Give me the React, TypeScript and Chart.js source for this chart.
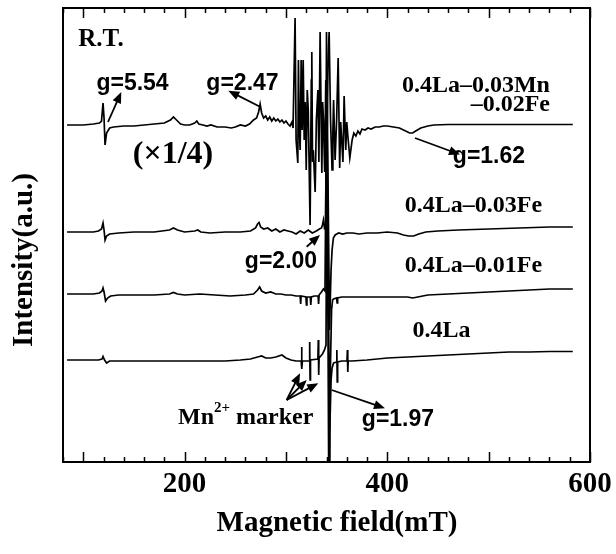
import React, { useEffect, useRef } from "react";
import { Chart, registerables } from "chart.js";

Chart.register(...registerables);

// ---- axis ----
const fieldMin = 80;
const fieldMax = 600;
const intensityMin = 0;
const intensityMax = 454;
const xTickLabels = [200, 400, 600];
const majorTicks = [100, 200, 300, 400, 500, 600];
const minorTicks = [80, 120, 140, 160, 180, 220, 240, 260, 280, 320, 340, 360, 380, 420, 440, 460, 480, 520, 540, 560, 580];

// ---- trace: 0.4La-0.03Mn-0.02Fe (x1/4) ----
const mnFeField = [84, 100, 110, 116, 118, 119.5, 120.5, 121.5, 123, 126, 130, 140, 150, 160, 170, 180, 186, 189, 192, 196, 200, 205, 210, 212, 214, 218, 222, 226, 232, 240, 246, 250, 255, 260, 264, 268, 271, 273, 274.5, 276, 278, 280, 282, 284, 286, 288, 290, 292, 294, 296, 298, 300, 302, 304, 306, 307, 309, 310, 311.7, 312.3, 313, 314, 315, 316, 317, 318, 319, 320, 321, 322, 323.8, 325, 325.5, 326.2, 327, 328.8, 330, 331.5, 332.5, 333.7, 335.4, 336.2, 337, 338.2, 339.3, 340.5, 341.5, 342.6, 344, 345.5, 346.3, 347, 348.5, 350, 351.5, 353, 354, 355, 356.2, 357.4, 359, 360, 361, 363, 365.3, 367, 369, 371, 373, 375, 378, 381, 384, 388, 392, 396, 400, 406, 412, 418, 422, 425, 428, 433, 440, 446, 460, 480, 500, 520, 540, 560, 583];
const mnFeIntensity = [337, 337, 338, 339, 341, 359, 344, 317, 329, 334, 335, 336, 336, 337, 338, 339, 342, 345, 342, 338, 337, 337, 339, 341, 338, 337, 336, 337, 335, 335, 334, 335, 337, 336, 338, 342, 344, 350, 358, 349, 344, 346, 342, 345, 341, 344, 341, 343, 340, 342, 339, 341, 338, 336, 340, 334, 444, 322, 299, 402, 342, 312, 402, 332, 402, 322, 360, 292, 372, 352, 237, 382, 410, 300, 312, 270, 342, 372, 300, 430, 289, 360, 342, 290, 382, 312, 400, 430, 342, 292, 330, 362, 302, 342, 404, 294, 340, 322, 300, 366, 312, 340, 327, 304, 322, 329, 326, 331, 328, 333, 332, 334, 333, 335, 335, 336, 336, 335, 334, 331, 329, 329, 331, 334, 336, 337, 337.5, 337.5, 337.5, 337.5, 337.5, 337.5, 337.5];

// ---- trace: 0.4La-0.03Fe ----
const fe03Field = [84, 100, 110, 115, 118, 119.5, 120.5, 121.5, 123, 126, 135, 150, 170, 185, 189, 193, 200, 210, 213, 216, 225, 240, 255, 265, 270, 272, 273.5, 275, 278, 282, 286, 290, 294, 298, 302, 306, 310, 314, 318, 322, 326, 330, 333, 335, 336, 337, 338, 339.2, 340, 343, 343.8, 344.5, 345.5, 346.8, 348.5, 352, 356, 360, 366, 372, 380, 390, 400, 410, 416, 421, 426, 431, 438, 450, 470, 500, 530, 560, 583];
const fe03Intensity = [230, 230, 230, 231, 233, 239, 232, 222, 226, 228, 229, 230, 230, 232, 234, 232, 230, 231, 232, 230, 229, 230, 230, 231, 234, 238, 239.5, 235, 233, 234, 231, 233, 230, 232, 231, 230, 228, 231, 229, 232, 229, 231, 233, 234, 237, 242, 234, 236, 430, 132, 165, 192, 212, 224, 227, 229, 228, 229, 229, 228, 229, 229, 230, 229, 227, 226, 226, 228, 230, 231, 232, 233, 234, 235, 235];

// ---- trace: 0.4La-0.01Fe ----
const fe01Field = [84, 95, 110, 116, 118.5, 119.5, 120.5, 122, 124, 127, 135, 150, 170, 185, 189, 193, 200, 215, 230, 245, 260, 268, 272, 274, 276, 280, 285, 290, 295, 300, 305, 310, 314, 314.5, 315, 319.7, 320.2, 320.7, 324, 324.5, 325, 328, 331.7, 332.2, 332.7, 335, 337, 338.5, 340.2, 343, 344, 345, 346, 347, 350, 350.5, 351, 355, 360, 370, 390, 410, 420, 425, 430, 440, 460, 480, 500, 520, 540, 560, 583];
const fe01Intensity = [168, 168, 168, 169, 171, 174, 170, 161, 164, 166, 167, 167, 167, 168, 169.5, 168, 167, 168, 167, 166, 167, 168, 172, 175, 171, 169, 170, 168, 168, 167, 167, 166, 166, 158, 166, 165, 157, 165, 165, 157, 165, 166, 166, 158, 167, 170, 173, 171, 380, 32, 102, 152, 162, 163, 164, 159, 164, 165, 165, 165, 165, 165, 165, 164, 165, 167, 168, 169, 170, 171, 172, 173, 173];

// ---- trace: 0.4La ----
const laField = [84, 100, 115, 118.5, 119.5, 121, 123, 126, 140, 160, 180, 200, 220, 240, 255, 265, 272, 276, 280, 285, 290, 296, 300, 305, 310, 315, 315.4, 315.8, 316.2, 323, 323.4, 323.8, 324.2, 331.5, 331.9, 332.3, 332.7, 336, 338, 339.5, 340.5, 342.8, 343.5, 344.5, 345.5, 347, 350, 350.2, 350.6, 351, 355, 360.2, 360.6, 361, 361.4, 365, 380, 400, 420, 440, 460, 480, 500, 520, 540, 560, 583];
const laIntensity = [102, 102, 102, 103, 105.5, 102, 99, 101, 101, 101, 101, 101, 101, 101, 102, 103, 105, 106, 104, 104, 105, 107, 104, 102, 101, 101, 115, 93, 101, 101, 120, 82, 102, 103, 122, 87, 104, 108, 112, 117, 330, -138, 42, 82, 94, 99, 100, 112, 80, 100, 101, 101, 112, 90, 101, 101, 102, 104, 105, 106, 107, 108, 109, 110, 110, 110.5, 110.5];

// ---- annotations (data coordinates: field mT, intensity a.u.) ----
const serifBold = (s: number) => `bold ${s}px "Liberation Serif", "Times New Roman", serif`;
const sansBold = (s: number) => `bold ${s}px "Liberation Sans", Arial, sans-serif`;

const labels = [
  { text: "R.T.", x: 117.5, y: 422, font: serifBold(25), align: "center" },
  { text: "g=5.54", x: 148.6, y: 378.5, font: sansBold(23), align: "center" },
  { text: "g=2.47", x: 257.1, y: 378.5, font: sansBold(23), align: "center" },
  { text: "0.4La\u20130.03Mn", x: 560.5, y: 376, font: serifBold(24), align: "right" },
  { text: "\u20130.02Fe", x: 560.5, y: 357, font: serifBold(24), align: "right" },
  { text: "(\u00d71/4)", x: 188.5, y: 307, font: serifBold(32), align: "center" },
  { text: "g=1.62", x: 500.3, y: 305, font: sansBold(23), align: "center" },
  { text: "0.4La\u20130.03Fe", x: 485, y: 256, font: serifBold(24), align: "center" },
  { text: "g=2.00", x: 295.1, y: 200, font: sansBold(23), align: "center" },
  { text: "0.4La\u20130.01Fe", x: 485, y: 196, font: serifBold(24), align: "center" },
  { text: "0.4La", x: 453.5, y: 131, font: serifBold(24), align: "center" },
  { text: "g=1.97", x: 410.5, y: 42, font: sansBold(23), align: "center" },
];

const arrows = [
  { from: [124.4, 340], to: [137.5, 370] },
  { from: [274.4, 355.3], to: [243.1, 371.3] },
  { from: [427.3, 324], to: [471.7, 307.5] },
  { from: [320.4, 215.3], to: [333.6, 227] },
  { from: [300.7, 62], to: [313.9, 88.7] },
  { from: [300.7, 62], to: [320.5, 82] },
  { from: [300.7, 62], to: [331.9, 78.7] },
  { from: [345.1, 72], to: [397.7, 53.7] },
];

const markerLabel = { main: "Mn", sup: "2+", rest: " marker", x: 193.5, y: 44 };
const xTitle = "Magnetic field(mT)";
const yTitle = "Intensity(a.u.)";

const annotationPlugin = {
  id: "epr-annotations",
  afterDraw(chart: any) {
    const { ctx, chartArea, scales } = chart;
    const xs = scales.x;
    const ys = scales.y;
    const px = (v: number) => xs.getPixelForValue(v);
    const py = (v: number) => ys.getPixelForValue(v);
    ctx.save();
    ctx.fillStyle = "#000";
    ctx.strokeStyle = "#000";

    // frame
    ctx.lineWidth = 2;
    ctx.strokeRect(chartArea.left, chartArea.top, chartArea.right - chartArea.left, chartArea.bottom - chartArea.top);

    // inward ticks top & bottom
    ctx.lineWidth = 1.5;
    const tick = (v: number, len: number) => {
      const X = Math.round(px(v)) + 0.5;
      ctx.beginPath();
      ctx.moveTo(X, chartArea.bottom);
      ctx.lineTo(X, chartArea.bottom - len);
      ctx.moveTo(X, chartArea.top);
      ctx.lineTo(X, chartArea.top + len);
      ctx.stroke();
    };
    minorTicks.forEach((v) => tick(v, 5));
    majorTicks.forEach((v) => tick(v, 10));

    // tick labels
    ctx.font = serifBold(29);
    ctx.textAlign = "center";
    ctx.textBaseline = "alphabetic";
    xTickLabels.forEach((v) => ctx.fillText(String(v), px(v), chartArea.bottom + 30));

    // axis titles
    ctx.font = serifBold(29);
    ctx.fillText(xTitle, 337, 531);
    ctx.save();
    ctx.translate(32, 260);
    ctx.rotate(-Math.PI / 2);
    ctx.font = serifBold(29);
    ctx.textAlign = "center";
    ctx.fillText(yTitle, 0, 0);
    ctx.restore();

    // text labels
    ctx.textBaseline = "middle";
    labels.forEach((l) => {
      ctx.font = l.font;
      ctx.textAlign = l.align as CanvasTextAlign;
      ctx.fillText(l.text, px(l.x), py(l.y));
    });

    // Mn2+ marker label
    ctx.textAlign = "left";
    let mx = px(markerLabel.x);
    const my = py(markerLabel.y);
    ctx.font = serifBold(24);
    ctx.fillText(markerLabel.main, mx, my);
    mx += ctx.measureText(markerLabel.main).width;
    ctx.font = serifBold(15);
    ctx.fillText(markerLabel.sup, mx, my - 10);
    mx += ctx.measureText(markerLabel.sup).width;
    ctx.font = serifBold(24);
    ctx.fillText(markerLabel.rest, mx, my);

    // arrows
    arrows.forEach((a) => {
      const x1 = px(a.from[0]);
      const y1 = py(a.from[1]);
      const x2 = px(a.to[0]);
      const y2 = py(a.to[1]);
      const ang = Math.atan2(y2 - y1, x2 - x1);
      const hl = 11;
      const hw = 4.5;
      ctx.lineWidth = 1.8;
      ctx.beginPath();
      ctx.moveTo(x1, y1);
      ctx.lineTo(x2 - Math.cos(ang) * hl * 0.8, y2 - Math.sin(ang) * hl * 0.8);
      ctx.stroke();
      ctx.beginPath();
      ctx.moveTo(x2, y2);
      ctx.lineTo(x2 - Math.cos(ang) * hl - Math.sin(ang) * hw, y2 - Math.sin(ang) * hl + Math.cos(ang) * hw);
      ctx.lineTo(x2 - Math.cos(ang) * hl + Math.sin(ang) * hw, y2 - Math.sin(ang) * hl - Math.cos(ang) * hw);
      ctx.closePath();
      ctx.fill();
    });
    ctx.restore();
  },
};

const toPoints = (xs: number[], ys: number[]) => xs.map((x, i) => ({ x, y: ys[i] }));

export default function App() {
  const canvasRef = useRef<HTMLCanvasElement | null>(null);
  useEffect(() => {
    if (!canvasRef.current) return;
    const mk = (label: string, xs: number[], ys: number[]) => ({
      label,
      data: toPoints(xs, ys),
      borderColor: "#000",
      borderWidth: 1.7,
      pointRadius: 0,
      tension: 0,
      fill: false,
    });
    const chart = new Chart(canvasRef.current, {
      type: "line",
      data: {
        datasets: [
          mk("0.4La-0.03Mn-0.02Fe", mnFeField, mnFeIntensity),
          mk("0.4La-0.03Fe", fe03Field, fe03Intensity),
          mk("0.4La-0.01Fe", fe01Field, fe01Intensity),
          mk("0.4La", laField, laIntensity),
        ],
      },
      options: {
        animation: false,
        responsive: false,
        devicePixelRatio: 1,
        parsing: false as any,
        layout: { padding: { left: 63, top: 8, right: 26, bottom: 92 } },
        plugins: { legend: { display: false }, tooltip: { enabled: false } },
        scales: {
          x: { type: "linear", min: fieldMin, max: fieldMax, display: false },
          y: { type: "linear", min: intensityMin, max: intensityMax, display: false },
        },
      },
      plugins: [annotationPlugin],
    });
    return () => chart.destroy();
  }, []);
  return (
    <div style={{ position: "fixed", left: 0, top: 0, width: 616, height: 554, background: "#fff" }}>
      <canvas ref={canvasRef} width={616} height={554} style={{ display: "block" }} />
    </div>
  );
}
